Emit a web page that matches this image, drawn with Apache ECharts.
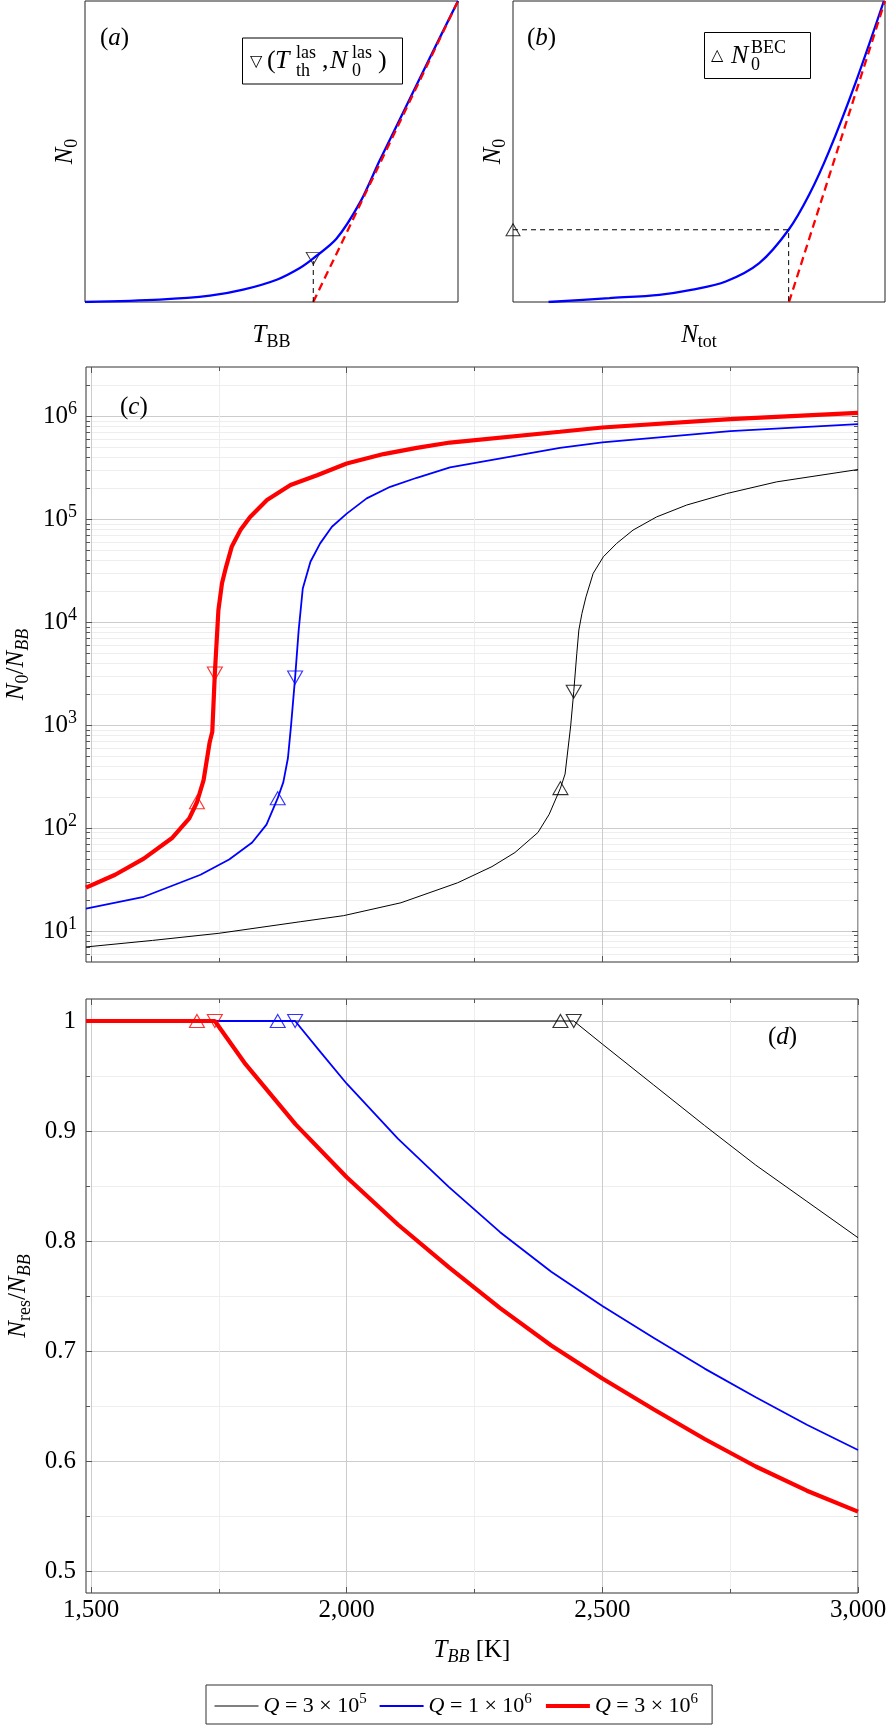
<!DOCTYPE html>
<html>
<head>
<meta charset="utf-8">
<script src="https://cdn.jsdelivr.net/npm/echarts@6/dist/echarts.min.js"></script>
<style>
html, body { margin: 0; padding: 0; background: #fff; }
#main { width: 896px; height: 1736px; }
</style>
</head>
<body>
<div id="main"></div>
<script>
// (a) schematic, arbitrary units: N0 against T_BB
var aT = [0, 0.20, 0.335, 0.424, 0.514, 0.576, 0.612, 0.674, 0.737, 0.79, 0.85, 0.92, 1.0];
var aN0 = [0, 0.008, 0.021, 0.041, 0.074, 0.113, 0.145, 0.21, 0.33, 0.47, 0.622, 0.80, 1.0];
var aLinT = [0.612, 1.0];
var aLinN0 = [0, 1.0];
var aThr = [0.612, 0.145];

// (b) schematic: N0 against N_tot
var bNtot = [0.0955, 0.259, 0.393, 0.483, 0.572, 0.662, 0.741, 0.796, 0.85, 0.921, 0.997];
var bN0 = [0, 0.013, 0.024, 0.041, 0.068, 0.129, 0.24, 0.356, 0.502, 0.729, 1.0];
var bLinNtot = [0.742, 1.0];
var bLinN0 = [0, 1.0];
var bBec = [0.741, 0.24];

// Q values, one per curve
var qNames = ['Q=3e5', 'Q=1e6', 'Q=3e6'];
var qMant = ['3', '1', '3'];
var qExp = ['5', '6', '6'];

// (c) N0/NBB against T_BB [K]
var cT3e5 = [1490, 1620, 1750, 1909, 1994, 2106, 2217, 2284, 2329, 2374, 2396, 2418, 2427, 2438, 2444, 2450, 2454, 2460, 2468, 2482, 2502, 2528, 2560, 2606, 2665, 2743, 2841, 3000];
var cN3e5 = [7.0, 8.1, 9.5, 12.3, 14.1, 18.8, 29.4, 42.2, 57.8, 90.5, 136, 244, 334, 982, 2110, 4970, 8360, 12100, 17600, 29700, 43100, 58100, 78200, 105000, 137000, 177000, 230000, 303000];
var cT1e6 = [1490, 1603, 1714, 1770, 1815, 1843, 1865, 1876, 1885, 1891, 1899, 1906, 1914, 1929, 1948, 1971, 2000, 2039, 2085, 2137, 2202, 2417, 2500, 2750, 3000];
var cN1e6 = [16.5, 21.5, 35.2, 49.5, 72.3, 108, 195, 279, 479, 982, 2890, 8360, 21200, 38500, 58100, 84200, 113000, 159000, 206000, 252000, 318000, 492000, 555000, 715000, 836000];
var cT3e6 = [1490, 1547, 1603, 1659, 1692, 1707, 1720, 1732, 1737, 1742, 1749, 1756, 1764, 1775, 1792, 1811, 1844, 1890, 1942, 2000, 2072, 2137, 2202, 2417, 2500, 2750, 3000];
var cN3e6 = [26.4, 35.2, 50.5, 80.5, 124, 178, 292, 686, 859, 3160, 13100, 23800, 34400, 53800, 78200, 105000, 153000, 214000, 267000, 347000, 428000, 492000, 554000, 705000, 776000, 935000, 1077000];

// BEC and lasing thresholds, order: 3e5, 1e6, 3e6
var becT = [2418, 1865, 1707];
var becN0 = [244, 195, 178];
var lasT = [2444, 1899, 1742];
var lasN0 = [2110, 2890, 3160];

// (d) Nres/NBB against T_BB [K]
var dT3e5 = [1490, 2444, 2500, 2600, 2700, 2800, 2900, 3000];
var dR3e5 = [1, 1, 0.979, 0.942, 0.905, 0.869, 0.836, 0.803];
var dT1e6 = [1490, 1899, 1950, 2000, 2100, 2200, 2300, 2400, 2500, 2600, 2700, 2800, 2900, 3000];
var dR1e6 = [1, 1, 0.971, 0.943, 0.893, 0.849, 0.808, 0.772, 0.741, 0.712, 0.684, 0.658, 0.633, 0.610];
var dT3e6 = [1490, 1742, 1800, 1900, 2000, 2100, 2200, 2300, 2400, 2500, 2600, 2700, 2800, 2900, 3000];
var dR3e6 = [1, 1, 0.962, 0.906, 0.858, 0.815, 0.776, 0.739, 0.705, 0.675, 0.647, 0.620, 0.595, 0.573, 0.554];

// ticks
var majorT = [1500, 2000, 2500, 3000];
var minorT = [1750, 2250, 2750];
var majorN0 = [10, 100, 1000, 10000, 100000, 1000000];
var minorMult = [2, 3, 4, 5, 6, 7, 8, 9];
var majorR = [0.5, 0.6, 0.7, 0.8, 0.9, 1];
var minorR = [0.55, 0.65, 0.75, 0.85, 0.95];

var minorN0 = [6, 7, 8, 9];
majorN0.forEach(function (d) {
  minorMult.forEach(function (m) { if (d * m < 3e6) minorN0.push(d * m); });
});

var SERIF = '"Liberation Serif", "DejaVu Serif", serif';
var COLORS = ['#000000', '#0000ff', '#ff0000'];
var WIDTHS = [1, 1.8, 4.2];
var MAJOR_GRID = '#cccccc';
var MINOR_GRID = '#eeeeee';
var FRAME = '#333333';

function rich(size) {
  var s = Math.round(size * 0.7);
  var lh = size + 6;
  return {
    r: { fontFamily: SERIF, fontSize: size, lineHeight: lh, color: '#000' },
    i: { fontFamily: SERIF, fontSize: size, fontStyle: 'italic', lineHeight: lh, color: '#000' },
    sub: { fontFamily: SERIF, fontSize: s, lineHeight: s, verticalAlign: 'bottom', color: '#000' },
    subi: { fontFamily: SERIF, fontSize: s, fontStyle: 'italic', lineHeight: s, verticalAlign: 'bottom', color: '#000' },
    sup: { fontFamily: SERIF, fontSize: s, lineHeight: s, verticalAlign: 'top', color: '#000' }
  };
}

function pairs(xs, ys) {
  return xs.map(function (x, i) { return [x, ys[i]]; });
}

function withComma(v) {
  return String(v).replace(/\B(?=(\d{3})+(?!\d))/g, ',');
}

// plain axis for the schematic panels
function bareAxis(grid, nameText, gap) {
  return {
    type: 'value', gridIndex: grid, min: 0, max: 1,
    name: nameText, nameLocation: 'middle', nameGap: gap,
    nameTextStyle: { rich: rich(25) },
    axisLine: { show: false }, axisTick: { show: false },
    axisLabel: { show: false }, splitLine: { show: false }
  };
}

// tick-only axis; major/minor grids drawn through split lines
function tickAxis(grid, pos, type, min, max, values, len, split) {
  return {
    type: type, gridIndex: grid, position: pos, min: min, max: max,
    axisLine: { show: false, onZero: false },
    axisTick: { show: true, inside: true, length: len, customValues: values,
      lineStyle: { color: '#555', width: 1 } },
    axisLabel: { show: false },
    splitLine: { show: !!split, lineStyle: { color: split || '#000', width: 1 } }
  };
}

var xAxes = [
  bareAxis(0, '{i|T}{sub|BB}', 18),
  bareAxis(1, '{i|N}{sub|tot}', 18),
  tickAxis(2, 'bottom', 'value', 1490, 3000, majorT, 6, MAJOR_GRID),
  tickAxis(2, 'bottom', 'value', 1490, 3000, minorT, 4, MINOR_GRID),
  tickAxis(2, 'top', 'value', 1490, 3000, majorT, 6),
  tickAxis(2, 'top', 'value', 1490, 3000, minorT, 4),
  tickAxis(3, 'bottom', 'value', 1490, 3000, majorT, 6, MAJOR_GRID),
  tickAxis(3, 'bottom', 'value', 1490, 3000, minorT, 4, MINOR_GRID),
  tickAxis(3, 'top', 'value', 1490, 3000, majorT, 6),
  tickAxis(3, 'top', 'value', 1490, 3000, minorT, 4)
];
// labels and title of the shared temperature axis
xAxes[6].axisLabel = {
  show: true, customValues: majorT, margin: 5,
  fontFamily: SERIF, fontSize: 25, color: '#000',
  formatter: function (v) { return withComma(v); }
};
xAxes[6].name = '{i|T}{subi|BB}{r| [K]}';
xAxes[6].nameLocation = 'middle';
xAxes[6].nameGap = 42;
xAxes[6].nameTextStyle = { rich: rich(25) };

var yAxes = [
  bareAxis(0, '{i|N}{sub|0}', 4),
  bareAxis(1, '{i|N}{sub|0}', 4),
  tickAxis(2, 'left', 'log', 5, 3e6, majorN0, 6, MAJOR_GRID),
  tickAxis(2, 'left', 'log', 5, 3e6, minorN0, 4, MINOR_GRID),
  tickAxis(2, 'right', 'log', 5, 3e6, majorN0, 6),
  tickAxis(2, 'right', 'log', 5, 3e6, minorN0, 4),
  tickAxis(3, 'left', 'value', 0.48, 1.02, majorR, 6, MAJOR_GRID),
  tickAxis(3, 'left', 'value', 0.48, 1.02, minorR, 4, MINOR_GRID),
  tickAxis(3, 'right', 'value', 0.48, 1.02, majorR, 6),
  tickAxis(3, 'right', 'value', 0.48, 1.02, minorR, 4)
];
yAxes[2].axisLabel = {
  show: true, customValues: majorN0, margin: 9,
  rich: rich(25),
  formatter: function (v) { return '{r|10}{sup|' + Math.round(Math.log10(v)) + '}'; }
};
yAxes[2].name = '{i|N}{sub|0}{r|/}{i|N}{subi|BB}';
yAxes[2].nameLocation = 'middle';
yAxes[2].nameGap = 50;
yAxes[2].nameTextStyle = { rich: rich(25) };
yAxes[6].axisLabel = {
  show: true, customValues: majorR, margin: 10,
  fontFamily: SERIF, fontSize: 25, color: '#000'
};
yAxes[6].name = '{i|N}{sub|res}{r|/}{i|N}{subi|BB}';
yAxes[6].nameLocation = 'middle';
yAxes[6].nameGap = 50;
yAxes[6].nameTextStyle = { rich: rich(25) };

function gridBox(left, top, width, height, border) {
  return { left: left, top: top, width: width, height: height, show: true,
    backgroundColor: 'transparent', borderColor: border, borderWidth: 1,
    containLabel: false, outerBoundsMode: 'none' };
}

var series = [];

// (a)
series.push({ type: 'line', xAxisIndex: 0, yAxisIndex: 0, data: pairs(aT, aN0), smooth: 0.3,
  symbol: 'none', lineStyle: { color: COLORS[1], width: 2.3 } });
series.push({ type: 'line', xAxisIndex: 0, yAxisIndex: 0, data: pairs(aLinT, aLinN0),
  symbol: 'none', lineStyle: { color: COLORS[2], width: 2.3, type: [8, 5] } });
series.push({ type: 'line', xAxisIndex: 0, yAxisIndex: 0, data: [[aThr[0], 0], aThr],
  symbol: 'none', lineStyle: { color: '#000', width: 1, type: [5, 4] } });
series.push({ type: 'scatter', xAxisIndex: 0, yAxisIndex: 0, data: [aThr], clip: false,
  symbol: 'triangle', symbolRotate: 180, symbolSize: [14, 12],
  itemStyle: { color: 'rgba(0,0,0,0)', borderColor: '#000', borderWidth: 1 } });

// (b)
series.push({ type: 'line', xAxisIndex: 1, yAxisIndex: 1, data: pairs(bNtot, bN0), smooth: 0.3,
  symbol: 'none', lineStyle: { color: COLORS[1], width: 2.3 } });
series.push({ type: 'line', xAxisIndex: 1, yAxisIndex: 1, data: pairs(bLinNtot, bLinN0),
  symbol: 'none', lineStyle: { color: COLORS[2], width: 2.3, type: [8, 5] } });
series.push({ type: 'line', xAxisIndex: 1, yAxisIndex: 1,
  data: [[0, bBec[1]], bBec, [bBec[0], 0]],
  symbol: 'none', lineStyle: { color: '#000', width: 1, type: [5, 4] } });
series.push({ type: 'scatter', xAxisIndex: 1, yAxisIndex: 1, data: [[0, bBec[1]]], clip: false,
  symbol: 'triangle', symbolSize: [14, 12],
  itemStyle: { color: 'rgba(0,0,0,0)', borderColor: '#000', borderWidth: 1 } });

// (c) and (d) curves
var cData = [pairs(cT3e5, cN3e5), pairs(cT1e6, cN1e6), pairs(cT3e6, cN3e6)];
var dData = [pairs(dT3e5, dR3e5), pairs(dT1e6, dR1e6), pairs(dT3e6, dR3e6)];
for (var k = 0; k < 3; k++) {
  series.push({ name: qNames[k], type: 'line', xAxisIndex: 2, yAxisIndex: 2, data: cData[k],
    symbol: 'none', lineStyle: { color: COLORS[k], width: WIDTHS[k] }, itemStyle: { color: COLORS[k] } });
  series.push({ name: qNames[k], type: 'line', xAxisIndex: 6, yAxisIndex: 6, data: dData[k],
    symbol: 'none', lineStyle: { color: COLORS[k], width: WIDTHS[k] }, itemStyle: { color: COLORS[k] } });
}

function markers(xIdx, yIdx, ts, ys, rot) {
  return {
    type: 'scatter', xAxisIndex: xIdx, yAxisIndex: yIdx, clip: false, z: 5,
    symbol: 'triangle', symbolRotate: rot, symbolSize: [15, 13],
    data: ts.map(function (t, i) {
      return { value: [t, ys[i]], itemStyle: { color: 'rgba(0,0,0,0)', borderColor: COLORS[i], borderWidth: 1.1 } };
    })
  };
}
series.push(markers(2, 2, becT, becN0, 0));
series.push(markers(2, 2, lasT, lasN0, 180));
series.push(markers(6, 6, becT, becT.map(function () { return 1; }), 0));
series.push(markers(6, 6, lasT, lasT.map(function () { return 1; }), 180));

function gtext(x, y, text, size, italic, family) {
  return { type: 'text', x: x, y: y, z: 30,
    style: { text: text, fontFamily: family || SERIF, fontSize: size,
      fontStyle: italic ? 'italic' : 'normal', fill: '#000', align: 'left', verticalAlign: 'middle' } };
}
function glabel(x, y, letter) {
  return { type: 'text', x: x, y: y, z: 30,
    style: { text: '{r|(}{i|' + letter + '}{r|)}', rich: rich(25), align: 'left', verticalAlign: 'middle' } };
}

var graphics = [
  glabel(100, 38, 'a'), glabel(527, 38, 'b'), glabel(120, 407, 'c'), glabel(768, 1037, 'd'),
  // legend box of (a)
  { type: 'rect', z: 29, shape: { x: 242.5, y: 38, width: 160, height: 46 },
    style: { fill: '#fff', stroke: '#000', lineWidth: 1 } },
  gtext(250, 62, '\u25BD', 16, false, '"DejaVu Sans"'),
  gtext(267, 61, '(', 26),
  gtext(275, 61, 'T', 26, true),
  gtext(296, 53, 'las', 18),
  gtext(296, 71, 'th', 18),
  gtext(322, 61, ',', 26),
  gtext(330, 61, 'N', 26, true),
  gtext(352, 53, 'las', 18),
  gtext(352, 71, '0', 18),
  gtext(378, 61, ')', 26),
  // legend box of (b)
  { type: 'rect', z: 29, shape: { x: 704.5, y: 32.5, width: 106, height: 46 },
    style: { fill: '#fff', stroke: '#000', lineWidth: 1 } },
  gtext(711, 56, '\u25B3', 16, false, '"DejaVu Sans"'),
  gtext(731, 56, 'N', 26, true),
  gtext(751, 48, 'BEC', 18),
  gtext(751, 65, '0', 18)
];

var option = {
  animation: false,
  backgroundColor: '#fff',
  grid: [
    gridBox(85, 1, 373, 301, '#222'),
    gridBox(513, 1, 372, 301, '#222'),
    gridBox(86, 367, 772, 595, FRAME),
    gridBox(86, 999, 772, 594, FRAME)
  ],
  xAxis: xAxes,
  yAxis: yAxes,
  legend: {
    data: qNames.map(function (n, k) {
      return { name: n, lineStyle: { color: COLORS[k], width: WIDTHS[k] } };
    }),
    left: 206, top: 1685, orient: 'horizontal',
    itemWidth: 44, itemHeight: 14, itemGap: 12, padding: [7, 14, 7, 8],
    borderColor: FRAME, borderWidth: 1, backgroundColor: '#fff', selectedMode: false,
    itemStyle: { opacity: 0 },
    textStyle: { fontFamily: SERIF, fontSize: 22, color: '#000', rich: rich(22) },
    formatter: function (name) {
      var k = qNames.indexOf(name);
      return '{i|Q}{r| = ' + qMant[k] + ' \u00D7 10}{sup|' + qExp[k] + '}';
    }
  },
  graphic: graphics,
  series: series
};

var myChart = echarts.init(document.getElementById('main'));
myChart.setOption(option);
</script>
</body>
</html>
